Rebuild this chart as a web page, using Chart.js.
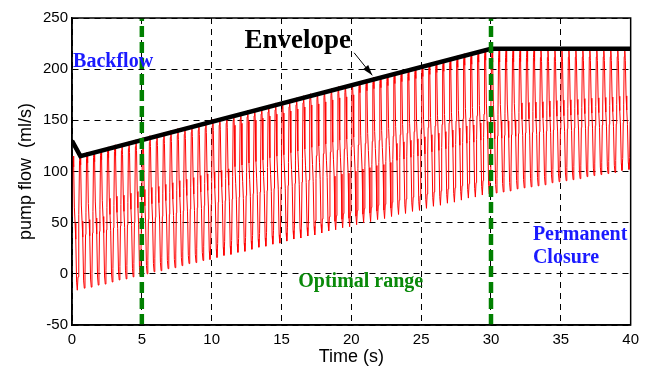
<!DOCTYPE html>
<html>
<head>
<meta charset="utf-8">
<script src="https://cdn.jsdelivr.net/npm/chart.js"></script>
<style>
  html, body { margin: 0; padding: 0; background: #fff; }
</style>
</head>
<body>
<canvas id="flowChart" width="645" height="369"></canvas>
<script>
// pump flow (one cycle = 0.5 s)
const period = 0.5;
const cycleOffset = 0.0;

// peak of each cycle (ml/s)
const cyclePeaks = [
  115, 117, 119, 120, 122, 124, 126, 127, 129, 131,
  133, 135, 136, 138, 140, 142, 143, 145, 147, 149,
  151, 152, 154, 156, 158, 160, 161, 163, 165, 167,
  168, 170, 172, 174, 176, 177, 179, 181, 183, 184,
  186, 188, 190, 192, 193, 195, 197, 199, 200, 202,
  204, 206, 208, 209, 211, 213, 215, 216, 218, 220,
  218, 218, 218, 218, 218, 218, 218, 218, 218, 218,
  218, 218, 218, 218, 218, 218, 218, 218, 218, 218
];
// trough of each cycle (ml/s)
const cycleTroughs = [
  -16, -14, -13, -11, -10, -8, -6, -5, -3, -2,
  0, 2, 3, 5, 6, 8, 10, 11, 13, 14,
  16, 18, 19, 21, 22, 24, 26, 27, 29, 30,
  32, 34, 35, 37, 38, 40, 42, 43, 45, 46,
  48, 50, 51, 53, 54, 56, 58, 59, 61, 62,
  64, 66, 67, 69, 70, 72, 74, 75, 77, 78,
  79, 80, 81, 83, 84, 85, 86, 87, 89, 90,
  91, 92, 93, 95, 96, 97, 98, 99, 101, 102
];
// shape of one beat: [fraction of period, fraction of trough->peak]
const cycleShape = [
  [0.00, 0.55], [0.08, 0.95], [0.16, 1.00], [0.24, 0.92],
  [0.34, 0.62], [0.44, 0.50], [0.54, 0.38], [0.66, 0.06],
  [0.76, 0.00], [0.86, 0.10], [0.94, 0.40]
];

const envelopeTime = [0, 0.6, 30, 40];
const envelopeFlow = [130, 115, 220, 220];

const markerTimes = [5, 30];

const xTicks = [0, 5, 10, 15, 20, 25, 30, 35, 40];
const yTicks = [-50, 0, 50, 100, 150, 200, 250];

// build the line points
const flowPoints = [];
cyclePeaks.forEach((peak, k) => {
  const trough = cycleTroughs[k];
  const t0 = k * period + cycleOffset;
  cycleShape.forEach(([f, a]) => {
    flowPoints.push({ x: t0 + f * period, y: trough + a * (peak - trough) });
  });
});

const envelopePoints = envelopeTime.map((t, i) => ({ x: t, y: envelopeFlow[i] }));

const markerSets = markerTimes.map(t => ({
  data: [{ x: t, y: yTicks[0] }, { x: t, y: yTicks[yTicks.length - 1] }],
  borderColor: '#008000',
  borderWidth: 4.5,
  borderDash: [11, 5],
  pointRadius: 0
}));

// labels + arrow + frame
const notesPlugin = {
  id: 'notes',
  afterDatasetsDraw(chart) {
    const { ctx, chartArea: a, scales: { x, y } } = chart;
    ctx.save();
    ctx.strokeStyle = '#000';
    ctx.lineWidth = 1.5;
    ctx.strokeRect(a.left, a.top, a.right - a.left, a.bottom - a.top);

    ctx.textBaseline = 'alphabetic';
    ctx.textAlign = 'left';
    const text = (s, t, v, font, color) => {
      ctx.font = font;
      ctx.fillStyle = color;
      ctx.fillText(s, x.getPixelForValue(t), y.getPixelForValue(v));
    };
    text('Backflow', 0.08, 202, 'bold 20px "Liberation Serif"', '#1a1aff');
    text('Envelope', 12.35, 221, 'bold 27px "Liberation Serif"', '#000');
    text('Optimal range', 16.2, -13, 'bold 20px "Liberation Serif"', '#0a8a0a');
    text('Permanent', 33.0, 33, 'bold 20px "Liberation Serif"', '#1a1aff');
    text('Closure', 33.0, 11, 'bold 20px "Liberation Serif"', '#1a1aff');

    // arrow from label to envelope
    const x1 = x.getPixelForValue(20.2), y1 = y.getPixelForValue(216);
    const x2 = x.getPixelForValue(21.5), y2 = y.getPixelForValue(194);
    ctx.strokeStyle = '#000';
    ctx.lineWidth = 1;
    ctx.beginPath();
    ctx.moveTo(x1, y1);
    ctx.lineTo(x2, y2);
    ctx.stroke();
    const ang = Math.atan2(y2 - y1, x2 - x1);
    ctx.fillStyle = '#000';
    ctx.beginPath();
    ctx.moveTo(x2, y2);
    ctx.lineTo(x2 - 11 * Math.cos(ang - 0.3), y2 - 11 * Math.sin(ang - 0.3));
    ctx.lineTo(x2 - 11 * Math.cos(ang + 0.3), y2 - 11 * Math.sin(ang + 0.3));
    ctx.closePath();
    ctx.fill();
    ctx.restore();
  }
};

const tickFont = { family: '"Liberation Sans", Arial', size: 15 };
const titleFont = { family: '"Liberation Sans", Arial', size: 18 };

new Chart(document.getElementById('flowChart'), {
  type: 'line',
  data: {
    datasets: [
      ...markerSets,
      { data: envelopePoints, borderColor: '#000', borderWidth: 4.5, pointRadius: 0 },
      { data: flowPoints, borderColor: '#ff0000', borderWidth: 1, pointRadius: 0 }
    ]
  },
  options: {
    responsive: false,
    animation: false,
    layout: { padding: { left: 0, right: 13, top: 18, bottom: 0 } },
    plugins: { legend: { display: false }, tooltip: { enabled: false } },
    scales: {
      x: {
        type: 'linear',
        min: 0, max: 40,
        afterBuildTicks: s => { s.ticks = xTicks.map(v => ({ value: v })); },
        afterFit: s => { s.height = 44; },
        ticks: { font: tickFont, color: '#000', padding: 6, maxRotation: 0 },
        grid: { color: '#000', lineWidth: 1, drawTicks: false },
        border: { display: true, color: '#000', width: 1.5, dash: [6, 5] },
        title: { display: true, text: 'Time (s)', font: titleFont, color: '#000', padding: { top: 0, bottom: 1 } }
      },
      y: {
        type: 'linear',
        min: -50, max: 250,
        afterBuildTicks: s => { s.ticks = yTicks.map(v => ({ value: v })); },
        afterFit: s => { s.width = 72; },
        ticks: { font: tickFont, color: '#000', padding: 4 },
        grid: { color: '#000', lineWidth: 1, drawTicks: false },
        border: { display: true, color: '#000', width: 1.5, dash: [6, 5] },
        title: { display: true, text: 'pump flow  (ml/s)', font: titleFont, color: '#000', padding: { top: 15, bottom: 15 } }
      }
    }
  },
  plugins: [notesPlugin]
});
</script>
</body>
</html>
